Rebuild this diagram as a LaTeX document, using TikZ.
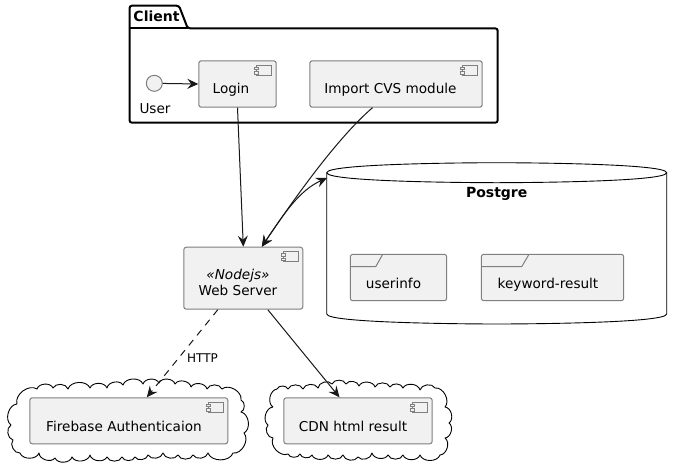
\documentclass[tikz,border=0pt]{standalone}
\usepackage{fontspec}
\setmainfont{DejaVu Sans}
\usetikzlibrary{arrows.meta,calc}
\definecolor{boxfill}{HTML}{F1F1F1}
\definecolor{boxline}{HTML}{7F7F7F}
\definecolor{edge}{HTML}{181818}
\tikzset{
  comp/.style={draw=boxline,fill=boxfill,line width=1pt,rounded corners=2.5pt,inner sep=0pt,anchor=north west},
  lab/.style={font=\fontsize{13.6}{16}\selectfont,inner sep=0pt,anchor=base,text=black},
  blab/.style={lab,font=\fontsize{14}{16}\selectfont\bfseries},
  conn/.style={draw=edge,line width=1pt,-{Stealth[length=11pt,width=10pt,inset=4pt]}},
  cloudline/.style={draw=black,line width=0.9pt,line join=round,bend left=70},
  icon/.style={draw=boxline,line width=1pt,fill=boxfill}
}
\newcommand{\compicon}[1]{%
  \draw[icon] ($(#1.north east)+(-20.3,4.7)$) rectangle ($(#1.north east)+(-5,14.7)$);
  \draw[icon] ($(#1.north east)+(-22.3,7.2)$) rectangle ($(#1.north east)+(-18,9.5)$);
  \draw[icon] ($(#1.north east)+(-22.3,11.5)$) rectangle ($(#1.north east)+(-18,13.8)$);
}
\begin{document}
\begin{tikzpicture}[x=1pt,y=-1pt]
\useasboundingbox (0,0) rectangle (682,472);
\fill[white] (0,0) rectangle (682,472);
% Client package
\draw[black,line width=2pt,rounded corners=2.5pt,fill=white]
  (129.5,28.3) -- (129.5,5.7) -- (179,5.7) -- (187.7,28.3) -- (497.7,28.3) -- (497.7,122.7) -- (129.5,122.7) -- cycle;
\draw[black,line width=2pt] (129.5,28.3) -- (187.7,28.3);
\node[blab] (clientlab) at (156.5,21.5) {Client};
% Postgre
\draw[black,line width=0.9pt,fill=white]
  (326.7,172.7) .. controls (326.7,162.7) and (496.7,162.7) .. (496.7,162.7)
  .. controls (496.7,162.7) and (666.7,162.7) .. (666.7,172.7)
  -- (666.7,314) .. controls (666.7,324) and (496.7,324) .. (496.7,324)
  .. controls (496.7,324) and (326.7,324) .. (326.7,314) -- cycle;
\draw[black,line width=0.9pt]
  (326.7,172.7) .. controls (326.7,182.7) and (496.7,182.7) .. (496.7,182.7)
  .. controls (496.7,182.7) and (666.7,182.7) .. (666.7,172.7);
\coordinate (pg) at (327,178);
\node[blab] (pglab) at (496.7,197) {Postgre};
% clouds
\draw[cloudline] (17,404) to (37,389) to (53,388) to (68,389) to (90,388) to (107,388) to (123,385)
  to (143,384) to (159,383) to (175,384) to (191,387) to (207,389) to (222,389) to (241,400) to (241,412)
  to (244,433) to (233,453) to (208,453) to (193,455) to (178,455) to (163,453) to (148,455) to (135,457)
  to (122,457) to (107,457) to (90,455) to (72,457) to (55,458) to (39,453) to (20,453) to (13,440) to (11,425) to (17,404);
\draw[cloudline] (273,407) to (277,389) to (288,389) to (303,389) to (318,388) to (332,384) to (346,384)
  to (359,386) to (375,387) to (390,387) to (403,388) to (420,390) to (435,388) to (445,407) to (449,423)
  to (445,438) to (440,455) to (420,455) to (403,455) to (388,455) to (372,453) to (358,457) to (343,455)
  to (328,455) to (312,455) to (300,454) to (288,454) to (273,438) to (268,425) to (273,407);
% components
\node[comp,minimum width=77.4pt,minimum height=46.4pt] (login) at (198.3,60.3) {};
\compicon{login}
\node[lab] (logintxt) at (231,93) {Login};
\node[comp,minimum width=172.4pt,minimum height=46.4pt] (import) at (309.3,60.3) {};
\compicon{import}
\node[lab] (importtxt) at (390.5,93) {Import CVS module};
\node[comp,minimum width=119pt,minimum height=62pt] (web) at (183.3,246.7) {};
\compicon{web}
\node[lab,font=\fontsize{13.6}{16}\selectfont\itshape] (webster) at (238,279) {«Nodejs»};
\node[lab] (webtxt) at (238,295) {Web Server};
\node[comp,minimum width=198pt,minimum height=46pt] (fire) at (29.3,397.3) {};
\compicon{fire}
\node[lab] (firetxt) at (124,431) {Firebase Authenticaion};
\node[comp,minimum width=148.4pt,minimum height=46pt] (cdn) at (283.3,397.3) {};
\compicon{cdn}
\node[lab] (cdntxt) at (353,431) {CDN html result};
% frames
\draw[boxline,line width=1pt,fill=boxfill,rounded corners=2.5pt] (350.3,254.3) rectangle (446.7,300.7);
\draw[boxline,line width=1pt] (350.3,266.7) -- (375.7,266.7) -- (382.7,254.3);
\node[lab] (userinfotxt) at (393.5,288) {userinfo};
\draw[boxline,line width=1pt,fill=boxfill,rounded corners=2.5pt] (481.3,254.3) rectangle (623.7,300.7);
\draw[boxline,line width=1pt] (481.3,266.7) -- (521.7,266.7) -- (529,254.3);
\node[lab] (keywordtxt) at (548,288) {keyword-result};
% user
\node[circle,draw=boxline,fill=boxfill,line width=1pt,minimum size=16pt,inner sep=0pt] (user) at (154.3,83.3) {};
\node[lab] (usertxt) at (155,113) {User};
% connectors
\draw[conn] (user) -- (login.west);
\draw[conn] (login.south) -- (web.north);
\draw[conn] (import.south) ++(-23.5,0) coordinate (impout) .. controls (335,140) and (290,205) .. ($(web.north)+(18.5,0)$);
\draw[conn,{Stealth[length=11pt,width=10pt,inset=4pt]}-{Stealth[length=11pt,width=10pt,inset=4pt]}] ($(web.north)+(18.5,0)$) .. controls (285,212) and (300,190) .. (pg);
\draw[conn,dash pattern=on 7pt off 6pt] ($(web.south)+(-25.5,0)$) -- ($(fire.north)+(18,0)$);
\draw[conn] ($(web.south)+(24.5,0)$) -- ($(cdn.north)+(-18.5,0)$);
\node[font=\fontsize{12}{14}\selectfont,inner sep=0pt,anchor=base,text=black] (http) at (202.5,362) {HTTP};
\end{tikzpicture}
\end{document}
